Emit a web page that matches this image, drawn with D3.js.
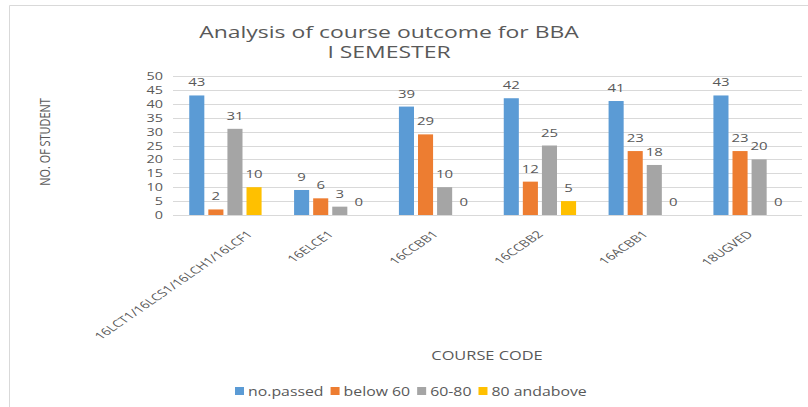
<!DOCTYPE html>
<meta charset="utf-8">
<script src="https://d3js.org/d3.v7.min.js"></script>
<style>
body { margin: 0; background: #fff; }
text { font-family: "Open Sans", sans-serif; fill: #595959; }
</style>
<div id="my_dataviz"></div>
<script>
// data
var courses = ["16LCT1/16LCS1/16LCH1/16LCF1", "16ELCE1", "16CCBB1", "16CCBB2", "16ACBB1", "18UGVED"];
var seriesNames = ["no.passed", "below 60", "60-80", "80 andabove"];
var noPassed = [43, 9, 39, 42, 41, 43];
var below60 = [2, 6, 29, 12, 23, 23];
var from60to80 = [31, 3, 10, 25, 18, 20];
var above80 = [10, 0, 0, 5, 0, 0];
var yTicks = [0, 5, 10, 15, 20, 25, 30, 35, 40, 45, 50];
var colors = ["#5B9BD5", "#ED7D31", "#A5A5A5", "#FFC000"];

var W = 808, H = 407;
var margin = {top: 76, right: 6, bottom: 192, left: 173},
    width = W - margin.left - margin.right,
    height = H - margin.top - margin.bottom;

// the source picture is stretched sideways, so text gets a horizontal scale
function place(sel, px, py, sx) {
  return sel.attr("transform", "translate(" + px + "," + py + ") scale(" + sx + ",1)");
}

var svg = d3.select("#my_dataviz").append("svg")
    .attr("width", W).attr("height", H);

// chart frame (top and left edges show in the picture)
svg.append("path")
  .attr("d", "M9.5," + H + "V5.5H" + W)
  .attr("fill", "none").attr("stroke", "#d9d9d9");

var g = svg.append("g")
  .attr("transform", "translate(" + margin.left + "," + margin.top + ")");

var x = d3.scaleBand().domain(courses).range([0, width]).paddingInner(0.31).paddingOuter(0.155);
var xInner = d3.scaleBand().domain(seriesNames).range([0, x.bandwidth()]).paddingInner(0.21);
var y = d3.scaleLinear().domain([0, 50]).range([height, 0]);

// gridlines
g.selectAll(".grid").data(yTicks).enter().append("line")
  .attr("x1", 0).attr("x2", width)
  .attr("y1", function(d) { return Math.round(y(d)) + 0.5; })
  .attr("y2", function(d) { return Math.round(y(d)) + 0.5; })
  .attr("stroke", "#d9d9d9");

// y tick labels
g.selectAll(".yt").data(yTicks).enter().append("text")
  .attr("text-anchor", "end")
  .style("font-size", "11.5px")
  .each(function(d) { place(d3.select(this), -10, y(d) + 4, 1.25); })
  .text(function(d) { return d; });

// rows: one per course
var rows = courses.map(function(c, i) {
  return {course: c, values: [noPassed[i], below60[i], from60to80[i], above80[i]]};
});

var groups = g.selectAll(".grp").data(rows).enter().append("g")
  .attr("transform", function(d) { return "translate(" + x(d.course) + ",0)"; });

groups.selectAll("rect").data(function(d) { return d.values; }).enter().append("rect")
  .attr("x", function(d, i) { return xInner(seriesNames[i]); })
  .attr("y", function(d) { return y(d); })
  .attr("width", xInner.bandwidth())
  .attr("height", function(d) { return height - y(d); })
  .attr("fill", function(d, i) { return colors[i]; });

groups.selectAll(".lbl").data(function(d) { return d.values; }).enter().append("text")
  .attr("text-anchor", "middle")
  .style("font-size", "11.5px")
  .each(function(d, i) {
    place(d3.select(this), xInner(seriesNames[i]) + xInner.bandwidth() / 2, y(d) - 9, 1.3);
  })
  .text(function(d) { return d; });

// x axis category labels, rotated then stretched
function labelTransform(d, shift) {
  return "translate(" + (x(d) + x.bandwidth() / 2 + 4 + shift) + "," + (height + 20) + ") scale(1.45,1) rotate(-45)";
}
var xl = g.selectAll(".xl").data(courses).enter().append("text")
  .attr("text-anchor", "end")
  .style("font-size", "10px")
  .attr("transform", function(d) { return labelTransform(d, 0); })
  .text(function(d) { return d; });

// keep long labels inside the chart like the original does
xl.each(function(d) {
  var b = this.getBoundingClientRect();
  if (b.left < 90) d3.select(this).attr("transform", labelTransform(d, 90 - b.left));
});

// titles
place(svg.append("text"), 389, 38, 1.35).attr("text-anchor", "middle")
  .style("font-size", "17px").text("Analysis of course outcome for BBA");
place(svg.append("text"), 389, 58, 1.35).attr("text-anchor", "middle")
  .style("font-size", "17px").text("I SEMESTER");

svg.append("text")
  .attr("transform", "translate(50,142) rotate(-90) scale(0.78,1)")
  .attr("text-anchor", "middle")
  .style("font-size", "14px")
  .text("NO. OF STUDENT");

place(svg.append("text"), 487, 360, 1.26).attr("text-anchor", "middle")
  .style("font-size", "13px").text("COURSE CODE");

// legend
var legend = svg.append("g").attr("transform", "translate(235,391)");
var lx = 0, lsx = 1.32;
seriesNames.forEach(function(s, i) {
  var it = legend.append("g").attr("transform", "translate(" + lx + ",0)");
  it.append("rect").attr("x", 0).attr("y", -4).attr("width", 9).attr("height", 8).attr("fill", colors[i]);
  var t = place(it.append("text"), 13, 4.5, lsx).style("font-size", "12px").text(s);
  lx += 13 + t.node().getComputedTextLength() * lsx + 7;
});
</script>
